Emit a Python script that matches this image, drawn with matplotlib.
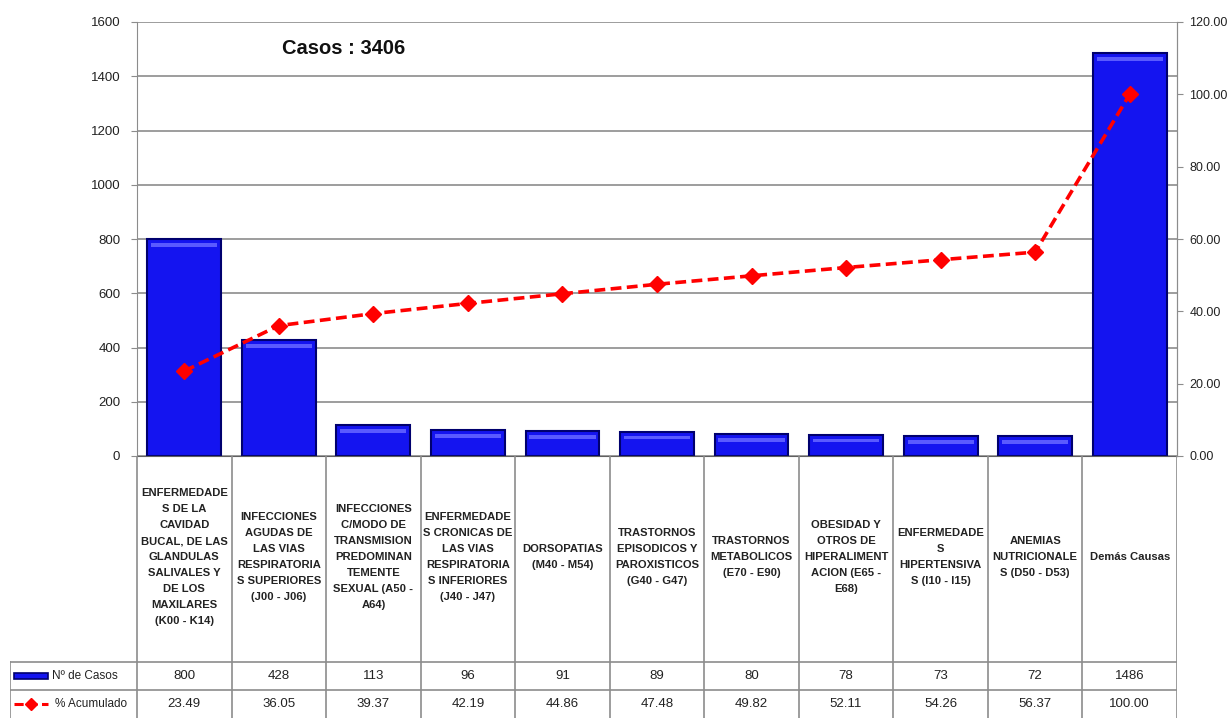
import numpy as np
import matplotlib.pyplot as plt
from matplotlib.lines import Line2D
from matplotlib.patches import Rectangle

# datos del grafico de pareto
categorias = [
    "ENFERMEDADE\nS DE LA\nCAVIDAD\nBUCAL, DE LAS\nGLANDULAS\nSALIVALES Y\nDE LOS\nMAXILARES\n(K00 - K14)",
    "INFECCIONES\nAGUDAS DE\nLAS VIAS\nRESPIRATORIA\nS SUPERIORES\n(J00 - J06)",
    "INFECCIONES\nC/MODO DE\nTRANSMISION\nPREDOMINAN\nTEMENTE\nSEXUAL (A50 -\nA64)",
    "ENFERMEDADE\nS CRONICAS DE\nLAS VIAS\nRESPIRATORIA\nS INFERIORES\n(J40 - J47)",
    "DORSOPATIAS\n(M40 - M54)",
    "TRASTORNOS\nEPISODICOS Y\nPAROXISTICOS\n(G40 - G47)",
    "TRASTORNOS\nMETABOLICOS\n(E70 - E90)",
    "OBESIDAD Y\nOTROS DE\nHIPERALIMENT\nACION (E65 -\nE68)",
    "ENFERMEDADE\nS\nHIPERTENSIVA\nS (I10 - I15)",
    "ANEMIAS\nNUTRICIONALE\nS (D50 - D53)",
    "Demás Causas",
]
casos = [800, 428, 113, 96, 91, 89, 80, 78, 73, 72, 1486]
acumulado = [23.49, 36.05, 39.37, 42.19, 44.86, 47.48, 49.82, 52.11, 54.26, 56.37, 100.00]
total_casos = 3406

plt.rcParams['font.family'] = ['Liberation Sans', 'DejaVu Sans']

W, H = 1230, 718
fig = plt.figure(figsize=(W / 100, H / 100), dpi=100)

# area del grafico en pixeles
x0, x1 = 137, 1177
y_top, y_base = 22, 456
ax = fig.add_axes([x0 / W, (H - y_base) / H, (x1 - x0) / W, (y_base - y_top) / H])

n = len(casos)
x = np.arange(n)
gris = '#8c8c8c'
texto = '#222222'

ax.set_axisbelow(True)
ax.bar(x, casos, width=0.78, color='#1414F0', edgecolor='#00006e', linewidth=1.5, zorder=2)
# brillo arriba de la barra (efecto 3D)
ax.bar(x, [14] * n, bottom=np.array(casos) - 28, width=0.7, color='#5a5aff', linewidth=0, zorder=3)

ax.set_xlim(-0.5, n - 0.5)
ax.set_ylim(0, 1600)
ax.set_yticks(np.arange(0, 1601, 200))
ax.yaxis.grid(True, color=gris, linewidth=1.2)
ax.set_xticks([])
ax.tick_params(axis='y', length=4, color=gris, labelsize=9.5, pad=8, labelcolor=texto)
for s in ['left', 'right', 'top']:
    ax.spines[s].set_color(gris)
ax.spines['top'].set_visible(False)
ax.spines['bottom'].set_color('#606060')

ax2 = ax.twinx()
ax2.plot(x, acumulado, color='#ff0000', linestyle='--', linewidth=2.6, dashes=(3, 1.5),
         marker='D', markersize=8, zorder=5)
ax2.set_ylim(0, 120)
ax2.set_yticks(np.arange(0, 121, 20))
ax2.set_yticklabels(['%.2f' % v for v in np.arange(0, 121, 20)])
ax2.tick_params(axis='y', length=4, color=gris, labelsize=9, pad=5, labelcolor=texto)
for s in ['left', 'right', 'top', 'bottom']:
    ax2.spines[s].set_visible(False)
ax2.spines['right'].set_visible(True)
ax2.spines['right'].set_color(gris)

ax.text(0.139, 0.94, 'Casos : %d' % total_casos, transform=ax.transAxes,
        fontsize=14.5, ha='left', va='center', fontweight='bold', color='#111111')

# tabla de datos debajo del grafico
tab_left = 10
unidad = (x1 - x0) / n
tab = fig.add_axes([tab_left / W, 0, (x1 - tab_left) / W, (H - y_base) / H])
tab.set_xlim(-0.5 - (x0 - tab_left) / unidad, n - 0.5)
tab.set_ylim(H, y_base)
tab.axis('off')

fila1, fila2 = 662, 690
bordes = np.arange(n + 1) - 0.5
izq = -0.5 - (x0 - tab_left) / unidad
for b in bordes:
    tab.plot([b, b], [y_base, H], color=gris, linewidth=1.2)
tab.plot([izq, izq], [fila1, H], color=gris, linewidth=1.2)
for yy in [fila1, fila2]:
    tab.plot([izq, n - 0.5], [yy, yy], color=gris, linewidth=1.2)

for i in range(n):
    tab.text(x[i], (y_base + fila1) / 2 - 2, categorias[i], ha='center', va='center',
             fontsize=8.1, fontweight='bold', linespacing=1.75, color=texto)
    tab.text(x[i], (fila1 + fila2) / 2, str(casos[i]), ha='center', va='center',
             fontsize=9.5, color=texto)
    tab.text(x[i], (fila2 + H) / 2, '%.2f' % acumulado[i], ha='center', va='center',
             fontsize=9.5, color=texto)

# leyenda dentro de la tabla
lx = izq + 0.04
largo = 0.36
tab.add_patch(Rectangle((lx, (fila1 + fila2) / 2 - 3), largo, 6, facecolor='#1414F0',
                        edgecolor='#00006e', linewidth=1.2))
tab.text(lx + largo + 0.04, (fila1 + fila2) / 2, 'Nº de Casos', ha='left', va='center',
         fontsize=8.5, color=texto)
tab.add_line(Line2D([lx, lx + largo], [(fila2 + H) / 2] * 2, color='#ff0000', linestyle='--',
                    linewidth=2.2, dashes=(3, 1.5)))
tab.plot([lx + largo / 2], [(fila2 + H) / 2], marker='D', color='#ff0000', markersize=6)
tab.text(lx + largo + 0.08, (fila2 + H) / 2, '% Acumulado', ha='left', va='center',
         fontsize=8.5, color=texto)

fig.savefig('out.png', dpi=100)
